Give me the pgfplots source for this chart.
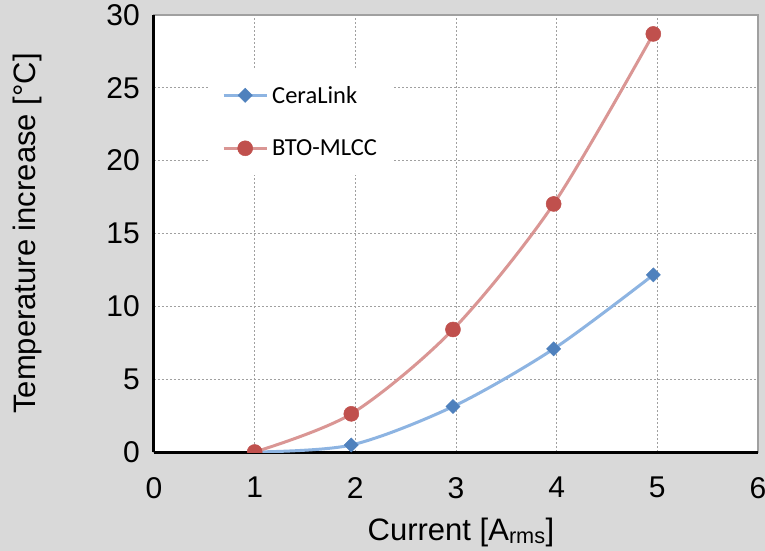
\documentclass[border=0pt]{standalone}
\usepackage{pgfplots}
\pgfplotsset{compat=1.18}
\usepackage{fontspec}
\setmainfont{Liberation Sans}
\newfontfamily\legfont{Carlito}
\definecolor{bg}{HTML}{D9D9D9}
\definecolor{blueline}{HTML}{8DB4E2}
\definecolor{bluemark}{HTML}{4F81BD}
\definecolor{redline}{HTML}{DA9694}
\definecolor{redmark}{HTML}{C0504D}
\definecolor{gridc}{HTML}{A0A0A0}
\begin{document}
\begin{tikzpicture}
\fill[bg] (-154bp,-99bp) rectangle (611bp,452bp);
\begin{axis}[
  scale only axis, width=604bp, height=437bp,
  xmin=0, xmax=6, ymin=0, ymax=30,
  xtick={0,1,2,3,4,5,6}, ytick={0,5,10,15,20,25,30},
  axis background/.style={fill=white, draw=gridc, line width=2bp},
  axis x line=bottom, axis y line=left,
  axis line style={-, black, line width=3bp},
  grid=major,
  major grid style={gridc, line width=1bp, dash pattern=on 2bp off 2bp},
  major tick length=0pt,
  tick label style={font=\fontsize{30bp}{36bp}\selectfont, inner sep=0pt},
  /pgf/number format/assume math mode=true,
  xticklabel style={anchor=north, yshift=-25bp},
  yticklabel style={anchor=east, xshift=-14bp},
  xlabel={Current [A\textsubscript{rms}]},
  xlabel style={at={(axis description cs:0.5,0)}, anchor=base, yshift=-88bp, xshift=5bp,
    font=\fontsize{31bp}{37bp}\selectfont, inner sep=0pt},
  ylabel={Temperature increase [°C]},
  ylabel style={at={([xshift=-141bp]axis description cs:0,0.5)}, anchor=north,
    font=\fontsize{31bp}{37bp}\selectfont, inner sep=0pt},
  clip marker paths=true,
  legend style={at={(axis description cs:0.0894,0.879)}, anchor=north west,
    draw=none, fill=white, font=\legfont\fontsize{24.5bp}{29bp}\selectfont,
    inner xsep=14bp, inner ysep=17bp, row sep=33bp, column sep=3bp,
    nodes={inner sep=1bp}},
  legend cell align=left,
  legend image code/.code={\draw[mark repeat=2,mark phase=2,#1] plot coordinates {(0bp,0bp) (21.5bp,0bp) (43bp,0bp)};},
]
\addplot[blueline, line width=3bp, smooth, tension=0.5, mark=square*, mark size=5bp,
  mark options={rotate=45, fill=bluemark, draw=bluemark, line width=0.5bp, solid}]
  coordinates {(1,0) (1.96,0.48) (2.97,3.12) (3.97,7.08) (4.96,12.16)};
\addlegendentry{CeraLink}
\addplot[redline, line width=3bp, smooth, tension=0.5, mark=*, mark size=7.5bp,
  mark options={fill=redmark, draw=redmark, line width=0.5bp, solid}]
  coordinates {(1,0) (1.96,2.62) (2.97,8.41) (3.97,17.03) (4.96,28.7)};
\addlegendentry{BTO-MLCC}
\end{axis}
\pgfresetboundingbox
\path[use as bounding box] (-154bp,-99bp) rectangle (611bp,452bp);
\end{tikzpicture}
\end{document}
